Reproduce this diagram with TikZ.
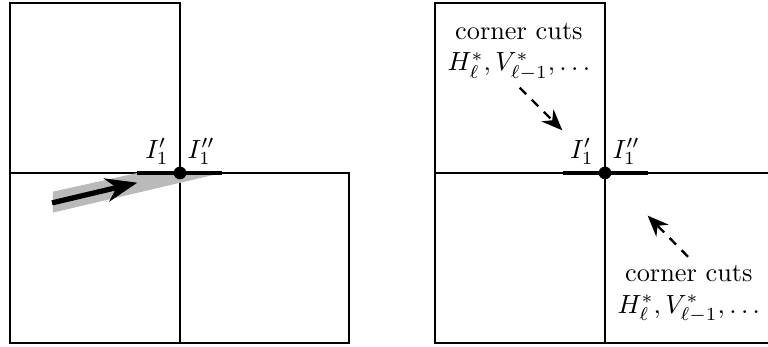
\documentclass[tikz,border=0pt]{standalone}
\usetikzlibrary{arrows.meta}
\begin{document}
\begin{tikzpicture}[
  box/.style={line width=0.75pt},
  cut/.style={line width=1.8pt},
  pt/.style={circle,fill,inner sep=0pt,minimum size=0.17cm},
  lbl/.style={inner sep=1pt},
  hint/.style={dash pattern=on 3.5pt off 3pt,line width=0.9pt,-{Stealth[length=8pt,width=6.5pt]}},
  note/.style={align=center,inner sep=0pt}
]
  \useasboundingbox (-2.405,-2.325) rectangle (7.856,2.311);
  % left panel
  \draw[box] (-2.27,0) rectangle (0,2.27);
  \draw[box] (-2.27,-2.27) rectangle (0,0);
  \draw[box] (0,-2.27) rectangle (2.26,0);
  \coordinate (a1) at (-0.57,0);
  \coordinate (b1) at (0.56,0);
  \fill[black!27] (-1.70,-0.25) -- (a1) -- (b1) -- (-1.70,-0.53) -- cycle;
  \draw[cut] (a1) -- (b1);
  \node[pt] (c1) at (0,0) {};
  \node[lbl,anchor=south east] (l1) at (-0.11,0.07) {$I_1'$};
  \node[lbl,anchor=south west] (r1) at (0.06,0.07) {$I_1''$};
  \coordinate (s1) at (-1.71,-0.40);
  \coordinate (t1) at (-0.57,-0.13);
  \draw[line width=2pt,-{Stealth[length=12pt,width=9pt]}] (s1) -- (t1);
  % right panel
  \begin{scope}[xshift=5.678cm]
  \draw[box] (-2.27,0) rectangle (0,2.27);
  \draw[box] (-2.27,-2.27) rectangle (0,0);
  \draw[box] (0,-2.27) rectangle (2.27,0);
  \coordinate (a2) at (-0.56,0);
  \coordinate (b2) at (0.57,0);
  \draw[cut] (a2) -- (b2);
  \node[pt] (c2) at (0,0) {};
  \node[lbl,anchor=south east] (l2) at (-0.11,0.07) {$I_1'$};
  \node[lbl,anchor=south west] (r2) at (0.06,0.07) {$I_1''$};
  \node[note] (n1) at (-1.15,1.62) {corner cuts\\$H^*_\ell, V^*_{\ell-1}, \ldots$};
  \node[note] (n2) at (1.12,-1.62) {corner cuts\\$H^*_\ell, V^*_{\ell-1}, \ldots$};
  \coordinate (u1) at (-1.14,1.14);
  \coordinate (v1) at (-0.57,0.57);
  \coordinate (u2) at (1.11,-1.12);
  \coordinate (v2) at (0.57,-0.57);
  \draw[hint] (u1) -- (v1);
  \draw[hint] (u2) -- (v2);
  \end{scope}
\end{tikzpicture}
\end{document}
